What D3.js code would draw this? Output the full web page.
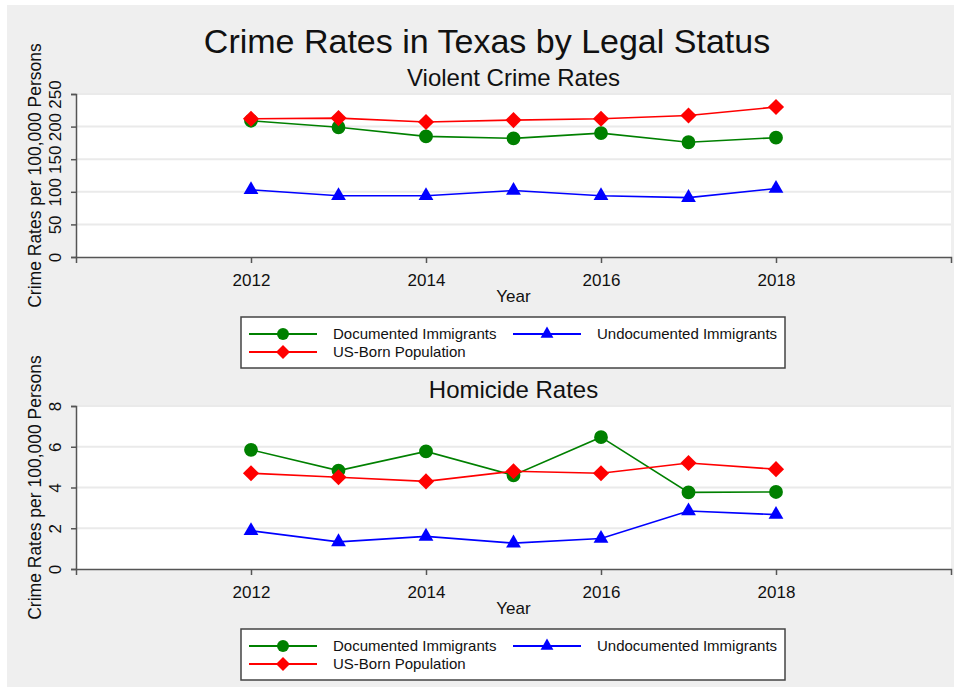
<!DOCTYPE html>
<meta charset="utf-8">
<head>
<style>
  body { margin: 0; background: #ffffff; font-family: 'Liberation Sans', Arial, sans-serif; }
  svg text { fill: #111; }
</style>
</head>
<body>
<div id="chart"></div>
<script src="https://cdn.jsdelivr.net/npm/d3@7/dist/d3.min.js"></script>
<script>

// data
var years = [2012, 2013, 2014, 2015, 2016, 2017, 2018];
var xTicks = [2012, 2014, 2016, 2018];

var violentDocumented   = [209, 199, 185, 182, 190, 176, 183];
var violentUndocumented = [103, 94, 94, 102, 94, 91, 105];
var violentUSBorn       = [212, 213, 207, 210, 212, 217, 230];
var violentTicks = [0, 50, 100, 150, 200, 250];

var homicideDocumented   = [5.85, 4.83, 5.77, 4.6, 6.47, 3.76, 3.78];
var homicideUndocumented = [1.88, 1.33, 1.6, 1.27, 1.5, 2.85, 2.67];
var homicideUSBorn       = [4.7, 4.5, 4.3, 4.8, 4.7, 5.2, 4.9];
var homicideTicks = [0, 2, 4, 6, 8];

var seriesNames = ["Documented Immigrants", "Undocumented Immigrants", "US-Born Population"];
var seriesColors = ["#008000", "#0000ff", "#ff0000"];
// diamond = square turned 45 degrees
var seriesShapes = [d3.symbolCircle, d3.symbolTriangle, d3.symbolSquare];
var shapeSizes = [150, 95, 130];
var shapeRotate = [0, 0, 45];

var W = 954, H = 698;
var svg = d3.select("#chart").append("svg")
  .attr("width", W).attr("height", H);

// outer grey graph region
svg.append("rect")
  .attr("x", 7).attr("y", 5)
  .attr("width", W - 7).attr("height", 682)
  .attr("fill", "#efefef");

svg.append("text")
  .attr("x", 487).attr("y", 53)
  .attr("text-anchor", "middle")
  .style("font-size", "34px")
  .text("Crime Rates in Texas by Legal Status");

function drawPanel(opts) {
  var left = 76, right = 951, top = opts.top, bottom = opts.top + 163;

  var x = d3.scaleLinear().domain([2010, 2020]).range([left, right]);
  var y = d3.scaleLinear().domain([opts.ticks[0], opts.ticks[opts.ticks.length - 1]]).range([bottom, top]);

  svg.append("text")
    .attr("x", (left + right) / 2).attr("y", top - 8)
    .attr("text-anchor", "middle")
    .style("font-size", "24px")
    .text(opts.title);

  svg.append("rect")
    .attr("x", left).attr("y", top)
    .attr("width", right - left).attr("height", bottom - top)
    .attr("fill", "#ffffff");

  // gridlines
  svg.append("g").selectAll("line")
    .data(opts.ticks.slice(1))
    .enter().append("line")
      .attr("x1", left).attr("x2", right)
      .attr("y1", function(d) { return y(d); })
      .attr("y2", function(d) { return y(d); })
      .attr("stroke", "#eaeaea")
      .attr("stroke-width", 2);

  // y axis
  var yAxis = svg.append("g")
    .attr("transform", "translate(" + left + ",0)")
    .call(d3.axisLeft(y).tickValues(opts.ticks).tickSize(5).tickPadding(0));
  yAxis.select(".domain").attr("stroke", "#555").attr("stroke-width", 1.5);
  yAxis.selectAll(".tick line").attr("stroke", "#555").attr("stroke-width", 1.5);
  yAxis.selectAll(".tick text")
    .attr("x", null).attr("dy", null)
    .attr("text-anchor", "middle")
    .attr("transform", "translate(-15,0) rotate(-90)")
    .style("font-size", "17px")
    .style("font-family", "'Liberation Sans', Arial, sans-serif")
    .attr("fill", "#111");

  // x axis
  var xAxis = svg.append("g")
    .attr("transform", "translate(0," + bottom + ")")
    .call(d3.axisBottom(x).tickValues(xTicks).tickFormat(d3.format("d")).tickSize(6).tickPadding(11));
  xAxis.select(".domain").attr("stroke", "#555").attr("stroke-width", 1.5);
  xAxis.selectAll(".tick line").attr("stroke", "#555").attr("stroke-width", 1.5);
  xAxis.selectAll(".tick text")
    .style("font-size", "17px")
    .style("font-family", "'Liberation Sans', Arial, sans-serif")
    .attr("fill", "#111");

  svg.append("text")
    .attr("x", (left + right) / 2).attr("y", bottom + 45)
    .attr("text-anchor", "middle")
    .style("font-size", "17px")
    .text("Year");

  svg.append("text")
    .attr("transform", "translate(41," + ((top + bottom) / 2) + ") rotate(-90)")
    .attr("text-anchor", "middle")
    .style("font-size", "17.5px")
    .text("Crime Rates per 100,000 Persons");

  // lines and markers
  var line = d3.line()
    .x(function(d, i) { return x(years[i]); })
    .y(function(d) { return y(d); });

  var order = [0, 2, 1];
  order.forEach(function(k) {
    svg.append("path")
      .datum(opts.series[k])
      .attr("d", line)
      .attr("fill", "none")
      .attr("stroke", seriesColors[k])
      .attr("stroke-width", 1.6);
  });
  order.forEach(function(k) {
    svg.append("g").selectAll("path")
      .data(opts.series[k])
      .enter().append("path")
        .attr("d", d3.symbol().type(seriesShapes[k]).size(shapeSizes[k]))
        .attr("transform", function(d, i) {
          return "translate(" + x(years[i]) + "," + y(d) + ") rotate(" + shapeRotate[k] + ")";
        })
        .attr("fill", seriesColors[k]);
  });

  // legend
  var ly = bottom + 60;
  var lg = svg.append("g");
  lg.append("rect")
    .attr("x", 241).attr("y", ly)
    .attr("width", 544).attr("height", 51)
    .attr("fill", "#ffffff")
    .attr("stroke", "#444")
    .attr("stroke-width", 1.5);

  var items = [
    {k: 0, x: 249, row: 0},
    {k: 1, x: 513, row: 0},
    {k: 2, x: 249, row: 1}
  ];
  items.forEach(function(it) {
    var cy = ly + 17 + it.row * 18;
    lg.append("line")
      .attr("x1", it.x).attr("x2", it.x + 68)
      .attr("y1", cy).attr("y2", cy)
      .attr("stroke", seriesColors[it.k])
      .attr("stroke-width", 2);
    lg.append("path")
      .attr("d", d3.symbol().type(seriesShapes[it.k]).size(shapeSizes[it.k] * 0.75))
      .attr("transform", "translate(" + (it.x + 34) + "," + cy + ") rotate(" + shapeRotate[it.k] + ")")
      .attr("fill", seriesColors[it.k]);
    lg.append("text")
      .attr("x", it.x + 84).attr("y", cy + 5)
      .style("font-size", "15px")
      .text(seriesNames[it.k]);
  });
}

drawPanel({
  top: 94,
  title: "Violent Crime Rates",
  ticks: violentTicks,
  series: [violentDocumented, violentUndocumented, violentUSBorn]
});

drawPanel({
  top: 406,
  title: "Homicide Rates",
  ticks: homicideTicks,
  series: [homicideDocumented, homicideUndocumented, homicideUSBorn]
});

</script>
</body>
